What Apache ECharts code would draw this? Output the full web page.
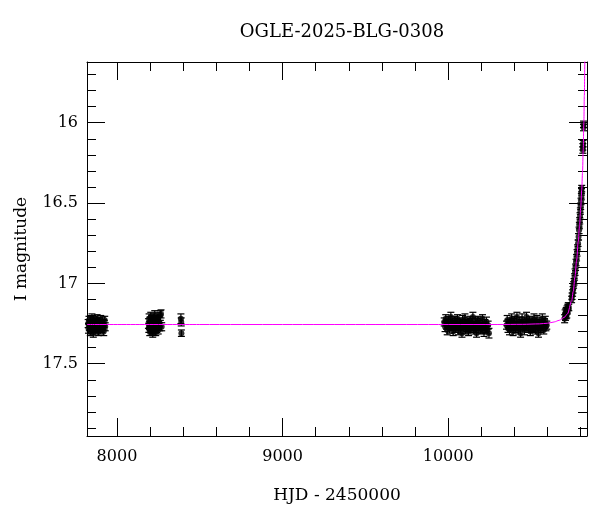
<!DOCTYPE html>
<html><head><meta charset="utf-8">
<script src="https://cdn.jsdelivr.net/npm/echarts@6/dist/echarts.min.js"></script>
<style>html,body{margin:0;padding:0;background:#fff}#c{width:600px;height:512px}</style>
</head><body><div id="c"></div>
<script>
const chartTitle = 'OGLE-2025-BLG-0308';
const xName = 'HJD - 2450000';
const yName = 'I magnitude';
const xRange = [7819, 10838];
const yRange = [15.622, 17.95];

// observations: [HJD-2450000, I mag, error]
const season1 = [[7826,17.25,0.025],[7828,17.28,0.03],[7831,17.23,0.025],[7833,17.27,0.025],[7836,17.26,0.03],[7839,17.30,0.025],[7840,17.24,0.03],[7843,17.26,0.025],[7846,17.29,0.025],[7849,17.22,0.03],[7851,17.27,0.025],[7854,17.25,0.025],[7857,17.31,0.025],[7858,17.26,0.03],[7861,17.23,0.025],[7864,17.28,0.025],[7867,17.26,0.03],[7869,17.24,0.025],[7872,17.29,0.025],[7875,17.27,0.025],[7878,17.25,0.03],[7880,17.22,0.025],[7883,17.28,0.025],[7886,17.26,0.03],[7889,17.30,0.025],[7891,17.24,0.025],[7894,17.27,0.03],[7897,17.25,0.025],[7899,17.29,0.025],[7902,17.23,0.03],[7905,17.26,0.025],[7908,17.28,0.025],[7911,17.24,0.03],[7914,17.27,0.025],[7917,17.25,0.025],[7920,17.30,0.025],[7923,17.26,0.03],[7926,17.23,0.025],[7929,17.27,0.025]];
const season2 = [[8190,17.25,0.03],[8192,17.28,0.025],[8194,17.22,0.03],[8196,17.26,0.025],[8198,17.30,0.025],[8200,17.24,0.03],[8202,17.27,0.025],[8204,17.21,0.03],[8206,17.29,0.025],[8208,17.25,0.025],[8210,17.23,0.03],[8212,17.28,0.025],[8214,17.26,0.025],[8216,17.31,0.025],[8218,17.24,0.03],[8220,17.27,0.025],[8222,17.22,0.03],[8224,17.29,0.025],[8226,17.25,0.025],[8228,17.20,0.03],[8230,17.27,0.025],[8232,17.24,0.03],[8234,17.30,0.025],[8236,17.26,0.025],[8238,17.23,0.03],[8240,17.28,0.025],[8243,17.25,0.025],[8246,17.21,0.03],[8249,17.29,0.025],[8252,17.26,0.025],[8255,17.24,0.03],[8258,17.27,0.025],[8262,17.20,0.03],[8266,17.19,0.025],[8270,17.27,0.025]];
const season3 = [[8386,17.22,0.03],[8388,17.24,0.025],[8389,17.31,0.02]];
const season4 = [[9976,17.24,0.025],[9981,17.27,0.03],[9985,17.22,0.025],[9990,17.26,0.025],[9994,17.29,0.03],[9999,17.25,0.025],[10003,17.23,0.025],[10008,17.28,0.03],[10012,17.26,0.025],[10016,17.21,0.03],[10021,17.27,0.025],[10025,17.24,0.025],[10030,17.30,0.025],[10034,17.26,0.03],[10039,17.23,0.025],[10043,17.28,0.025],[10047,17.25,0.03],[10052,17.27,0.025],[10056,17.22,0.025],[10061,17.29,0.03],[10065,17.26,0.025],[10070,17.24,0.025],[10074,17.28,0.03],[10078,17.25,0.025],[10083,17.31,0.025],[10087,17.23,0.03],[10092,17.27,0.025],[10096,17.26,0.025],[10101,17.22,0.03],[10105,17.29,0.025],[10109,17.25,0.025],[10114,17.27,0.03],[10118,17.24,0.025],[10123,17.30,0.025],[10127,17.26,0.03],[10132,17.23,0.025],[10136,17.28,0.025],[10140,17.25,0.03],[10145,17.27,0.025],[10149,17.21,0.03],[10154,17.29,0.025],[10158,17.26,0.025],[10163,17.24,0.03],[10167,17.28,0.025],[10171,17.31,0.025],[10176,17.25,0.03],[10180,17.23,0.025],[10185,17.27,0.025],[10189,17.26,0.03],[10194,17.29,0.025],[10198,17.24,0.025],[10203,17.28,0.03],[10207,17.22,0.025],[10212,17.27,0.025],[10216,17.30,0.03],[10221,17.25,0.025],[10226,17.28,0.025],[10231,17.24,0.03],[10236,17.29,0.025],[10241,17.26,0.025],[10246,17.31,0.03]];
const season5 = [[10352,17.26,0.025],[10356,17.23,0.03],[10361,17.28,0.025],[10365,17.25,0.025],[10370,17.29,0.03],[10374,17.24,0.025],[10379,17.27,0.025],[10383,17.22,0.03],[10388,17.26,0.025],[10392,17.30,0.025],[10397,17.25,0.03],[10401,17.23,0.025],[10406,17.28,0.025],[10410,17.26,0.025],[10415,17.21,0.03],[10419,17.27,0.025],[10424,17.29,0.025],[10428,17.24,0.03],[10433,17.26,0.025],[10437,17.31,0.025],[10442,17.25,0.025],[10446,17.22,0.03],[10451,17.27,0.025],[10455,17.26,0.025],[10460,17.29,0.03],[10464,17.24,0.025],[10469,17.27,0.025],[10473,17.21,0.03],[10478,17.25,0.025],[10482,17.28,0.025],[10487,17.26,0.03],[10491,17.23,0.025],[10496,17.30,0.025],[10500,17.25,0.025],[10505,17.27,0.03],[10509,17.24,0.025],[10514,17.28,0.025],[10518,17.22,0.03],[10523,17.26,0.025],[10527,17.29,0.025],[10532,17.25,0.025],[10536,17.23,0.03],[10541,17.27,0.025],[10545,17.31,0.025],[10550,17.26,0.025],[10554,17.24,0.03],[10559,17.28,0.025],[10563,17.25,0.025],[10568,17.22,0.03],[10572,17.27,0.025],[10577,17.29,0.025],[10581,17.25,0.03],[10586,17.23,0.025],[10590,17.27,0.025],[10595,17.26,0.025]];
const season6 = [[10703,17.22,0.025],[10706,17.19,0.025],[10708,17.21,0.02],[10710,17.18,0.025],[10712,17.20,0.02],[10714,17.17,0.02],[10716,17.19,0.025],[10718,17.16,0.02],[10720,17.17,0.02],[10722,17.15,0.02],[10725,17.14,0.02],[10728,17.15,0.02],[10745,17.10,0.02],[10748,17.08,0.02],[10751,17.06,0.02],[10754,17.04,0.02],[10757,17.01,0.02],[10760,16.99,0.02],[10763,16.96,0.02],[10766,16.93,0.02],[10769,16.90,0.02],[10772,16.87,0.02],[10775,16.84,0.02],[10778,16.81,0.02],[10781,16.78,0.02],[10784,16.75,0.02],[10787,16.71,0.02],[10790,16.67,0.02],[10792,16.64,0.02],[10794,16.61,0.02],[10796,16.58,0.02],[10798,16.55,0.02],[10800,16.52,0.02],[10802,16.49,0.02],[10804,16.46,0.02],[10805,16.43,0.02],[10806,16.41,0.02],[10813,16.17,0.02],[10813,16.15,0.02],[10814,16.13,0.02],[10817,16.03,0.02],[10817,16.01,0.02]];

// model light curve
const modelHjd = [7819, 8500, 9000, 9500, 10000, 10300, 10450, 10550, 10600, 10640, 10670, 10700, 10720, 10745, 10755, 10765, 10775, 10785, 10793, 10800, 10806, 10811, 10815, 10819, 10822, 10825, 10828];
const modelMag = [17.256, 17.256, 17.256, 17.256, 17.256, 17.256, 17.255, 17.252, 17.248, 17.240, 17.230, 17.212, 17.190, 17.110, 17.050, 16.960, 16.860, 16.740, 16.640, 16.530, 16.420, 16.310, 16.170, 16.000, 15.830, 15.620, 15.400];

const FONT = 'DejaVu Serif';
const obs = season1.concat(season2, season3, season4, season5, season6);
const model = modelHjd.map((t, i) => [t, modelMag[i]]);

function errorBar(params, api) {
  const x = api.value(0), m = api.value(1), e = api.value(2);
  const a = api.coord([x, m - e]);
  const b = api.coord([x, m + e]);
  const w = 3.5;
  const st = { stroke: '#000', lineWidth: 1.2, fill: null };
  return { type: 'group', children: [
    { type: 'line', shape: { x1: a[0], y1: a[1], x2: b[0], y2: b[1] }, style: st },
    { type: 'line', shape: { x1: a[0] - w, y1: a[1], x2: a[0] + w, y2: a[1] }, style: st },
    { type: 'line', shape: { x1: b[0] - w, y1: b[1], x2: b[0] + w, y2: b[1] }, style: st }
  ]};
}

const black = { color: '#000', width: 1 };
function xAx(pos, showLabel) {
  return {
    type: 'value', position: pos, min: xRange[0], max: xRange[1], splitNumber: 3,
    name: showLabel ? xName : '', nameLocation: 'middle', nameGap: 51,
    nameTextStyle: { fontFamily: FONT, fontSize: 17, color: '#000' },
    axisLine: { show: true, onZero: false, lineStyle: black },
    axisTick: { show: true, inside: true, length: 18, lineStyle: black },
    minorTick: { show: true, splitNumber: 5, length: 9, lineStyle: black },
    splitLine: { show: false }, minorSplitLine: { show: false },
    axisLabel: { show: showLabel, fontFamily: FONT, fontSize: 16, color: '#000', margin: 13,
      formatter: v => (Math.abs(v % 1000) < 1e-6 ? String(v) : '') }
  };
}
function yAx(pos, showLabel) {
  return {
    type: 'value', position: pos, inverse: true, min: yRange[0], max: yRange[1], splitNumber: 5,
    name: showLabel ? yName : '', nameLocation: 'middle', nameGap: 57,
    nameTextStyle: { fontFamily: FONT, fontSize: 17, color: '#000' },
    axisLine: { show: true, onZero: false, lineStyle: black },
    axisTick: { show: true, inside: true, length: 18, lineStyle: black },
    minorTick: { show: true, splitNumber: 5, length: 9, lineStyle: black },
    splitLine: { show: false }, minorSplitLine: { show: false },
    axisLabel: { show: showLabel, fontFamily: FONT, fontSize: 16, color: '#000', margin: 9,
      formatter: v => (Math.abs(v * 2 - Math.round(v * 2)) < 1e-6 ? String(Math.round(v * 2) / 2) : '') }
  };
}

const chart = echarts.init(document.getElementById('c'), null, { renderer: 'canvas' });
chart.setOption({
  animation: false,
  backgroundColor: '#fff',
  title: { text: chartTitle, left: 342, top: 23, textAlign: 'center', padding: 0,
    textStyle: { fontFamily: FONT, fontSize: 18, fontWeight: 'normal', color: '#000' } },
  grid: { left: 87, right: 13, top: 62, bottom: 76 },
  xAxis: [xAx('bottom', true), xAx('top', false)],
  yAxis: [yAx('left', true), yAx('right', false)],
  series: [
    { type: 'custom', xAxisIndex: 0, yAxisIndex: 0, renderItem: errorBar, data: obs,
      encode: { x: 0, y: 1 }, silent: true, z: 2 },
    { type: 'scatter', xAxisIndex: 0, yAxisIndex: 0, data: obs, symbol: 'circle', symbolSize: 6,
      itemStyle: { color: '#000' }, silent: true, z: 3 },
    { type: 'line', xAxisIndex: 0, yAxisIndex: 0, data: model, showSymbol: false, symbol: 'none',
      smooth: 0.3, smoothMonotone: 'x', clip: true,
      lineStyle: { color: '#ff00ff', width: 1 }, silent: true, z: 4 }
  ]
});
</script></body></html>
